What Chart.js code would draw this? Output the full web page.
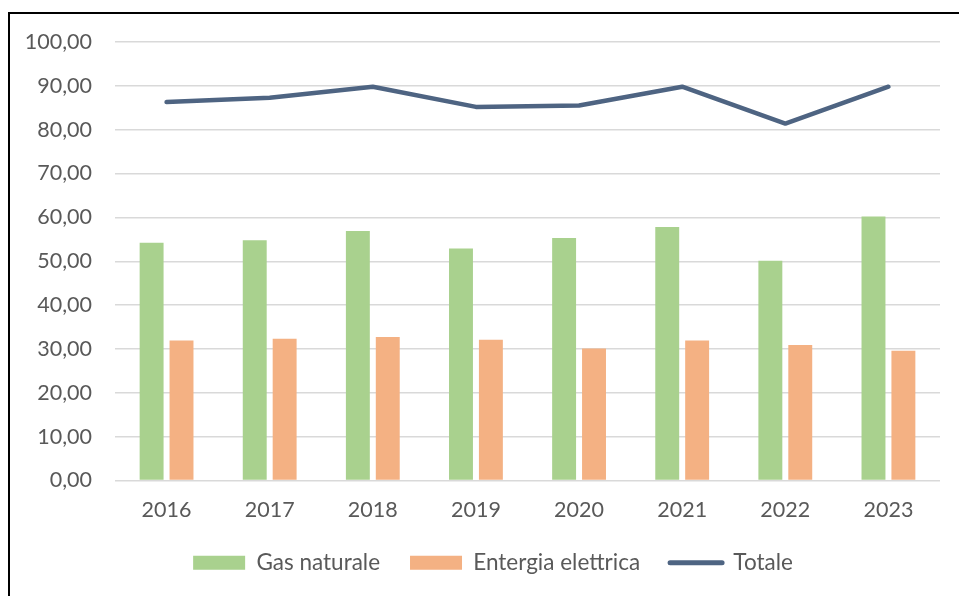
<!DOCTYPE html>
<html>
<head>
<meta charset="utf-8">
<script src="https://cdn.jsdelivr.net/npm/chart.js@4/dist/chart.umd.min.js"></script>
<style>
  html, body { margin: 0; padding: 0; background: #fff; overflow: hidden; }
  #wrap { position: absolute; left: 0; top: 0; width: 959px; height: 596px; }
  #frame { position: absolute; left: 8px; top: 12px; width: 1000px; height: 700px;
           border-left: 2px solid #000; border-top: 2px solid #000; pointer-events: none; }
  canvas { position: absolute; left: 0; top: 0; }
</style>
</head>
<body>
<div id="wrap"><canvas id="c" width="959" height="596"></canvas></div>
<div id="frame"></div>
<script>
const years = ['2016', '2017', '2018', '2019', '2020', '2021', '2022', '2023'];
const gasNaturale = [54.2, 54.8, 56.9, 52.9, 55.3, 57.8, 50.1, 60.2];
const energiaElettrica = [31.9, 32.3, 32.7, 32.1, 30.1, 31.9, 30.9, 29.6];
const totale = [86.3, 87.3, 89.8, 85.2, 85.5, 89.8, 81.4, 89.8];
const seriesNames = ['Gas naturale', 'Entergia elettrica', 'Totale'];
const yMin = 0, yMax = 100, yStep = 10;

const FONT = 'Lato, "Open Sans", sans-serif';
const TEXT = '#595959';
const FS = 21.5;

const legendShift = {
  id: 'legendShift',
  afterLayout(chart) {
    const lg = chart.legend;
    if (lg) { lg.left += 23; lg.right += 23; }
  }
};

new Chart(document.getElementById('c'), {
  data: {
    labels: years,
    datasets: [
      { type: 'bar', label: seriesNames[0], data: gasNaturale, backgroundColor: '#A9D18E',
        borderWidth: 0, categoryPercentage: 0.58, barPercentage: 0.8 },
      { type: 'bar', label: seriesNames[1], data: energiaElettrica, backgroundColor: '#F4B183',
        borderWidth: 0, categoryPercentage: 0.58, barPercentage: 0.8 },
      { type: 'line', label: seriesNames[2], data: totale, borderColor: '#4E6482', backgroundColor: '#4E6482',
        borderWidth: 4.5, pointRadius: 0, pointHoverRadius: 0, tension: 0, fill: false,
        borderCapStyle: 'round', borderJoinStyle: 'round' }
    ]
  },
  plugins: [legendShift],
  options: {
    responsive: false,
    animation: false,
    events: [],
    layout: { padding: { left: 0, right: 19, top: 42, bottom: 12 } },
    scales: {
      x: {
        grid: { display: false, drawTicks: false },
        border: { display: false },
        ticks: { color: TEXT, font: { family: FONT, size: FS }, padding: 17 },
        afterFit: s => { s.height = 41; }
      },
      y: {
        min: yMin, max: yMax,
        grid: { color: '#D9D9D9', lineWidth: 1.5, drawTicks: false },
        border: { display: false },
        ticks: { stepSize: yStep, color: TEXT, font: { family: FONT, size: FS }, padding: 23,
                 callback: v => v.toFixed(2).replace('.', ',') },
        afterFit: s => { s.width = 115; }
      }
    },
    plugins: {
      tooltip: { enabled: false },
      legend: {
        position: 'bottom',
        labels: {
          color: TEXT, font: { family: FONT, size: 22.5 },
          usePointStyle: true, pointStyleWidth: 52, boxHeight: 14, padding: 30,
          generateLabels: chart => {
            const items = Chart.defaults.plugins.legend.labels.generateLabels(chart);
            items.forEach(it => {
              if (it.datasetIndex === 2) {
                it.pointStyle = 'line'; it.lineWidth = 5; it.strokeStyle = '#4E6482'; it.lineCap = 'round';
              } else {
                it.pointStyle = 'rect'; it.lineWidth = 0; it.strokeStyle = it.fillStyle;
              }
            });
            return items;
          }
        }
      }
    }
  }
});
</script>
</body>
</html>
